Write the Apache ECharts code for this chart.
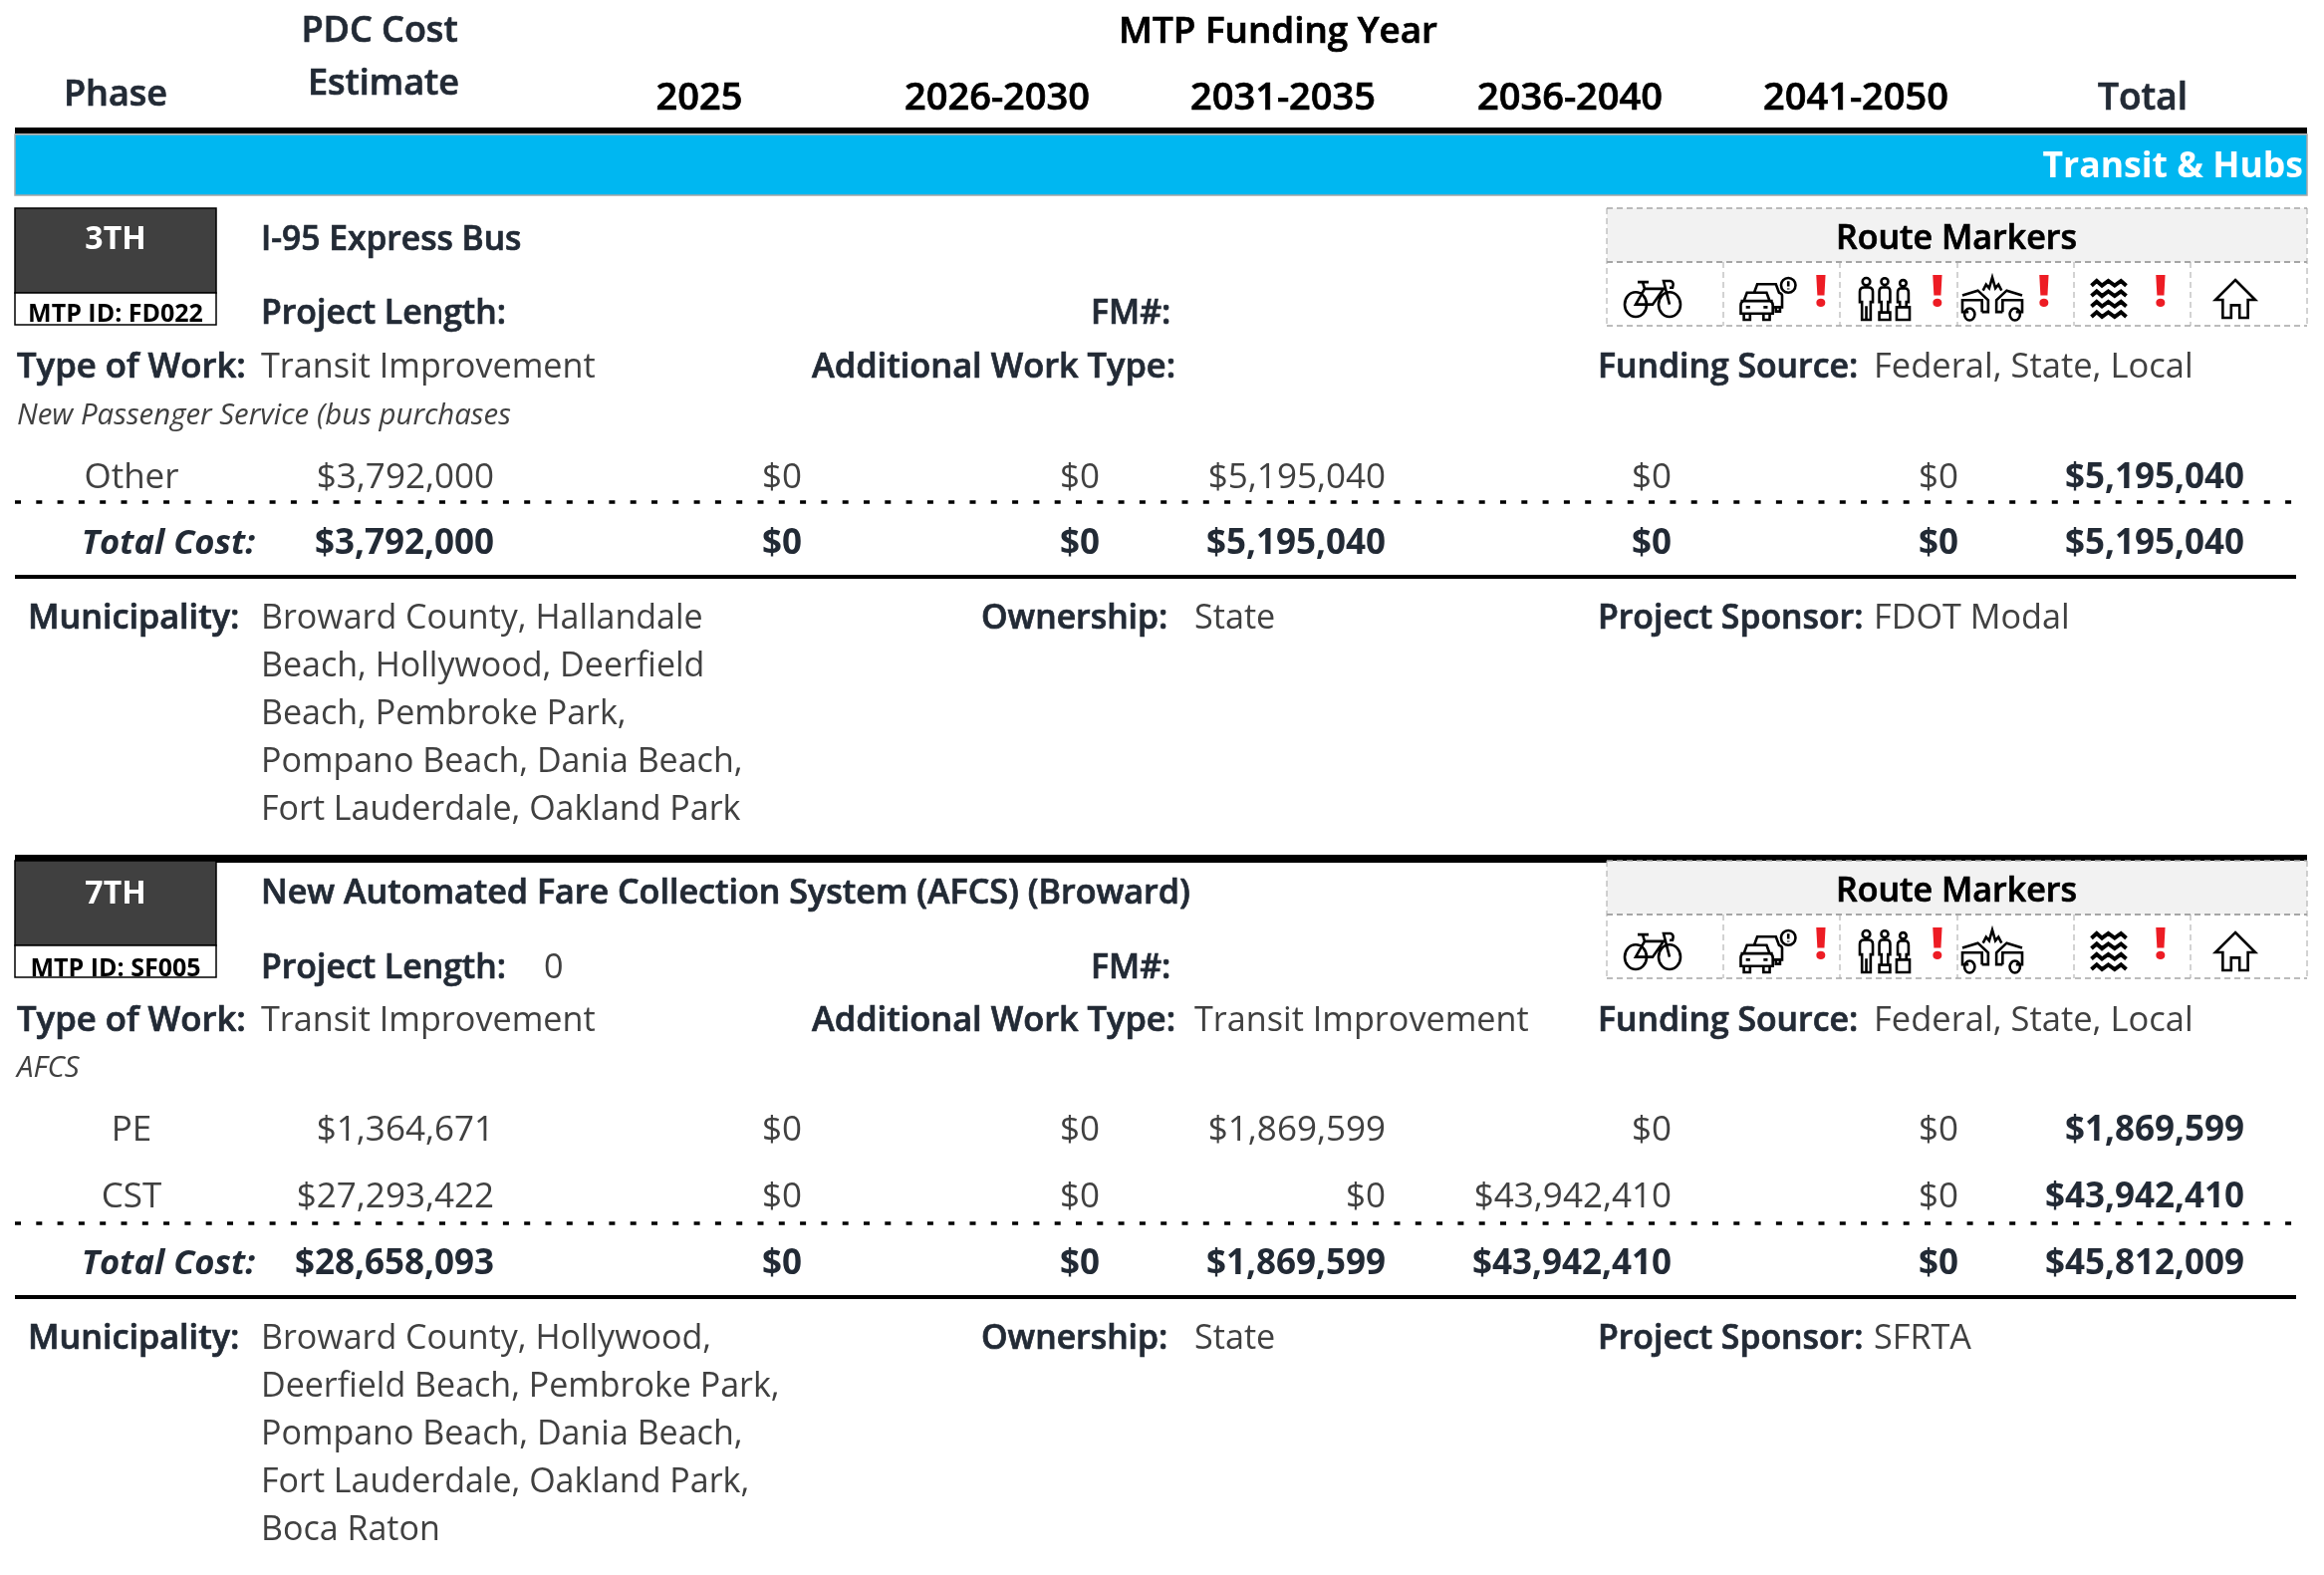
<!DOCTYPE html>
<html>
<head>
<meta charset="utf-8">
<title>Transit &amp; Hubs</title>
<script src="https://cdn.jsdelivr.net/npm/echarts@6/dist/echarts.min.js"></script>
<style>
html, body { margin: 0; padding: 0; background: #fff; }
#main { width: 2333px; height: 1581px; }
</style>
</head>
<body>
<div id="main"></div>
<script>
// table text and values
var yearHeaders = ['2025', '2026-2030', '2031-2035', '2036-2040', '2041-2050', 'Total'];

var p1Tier = '3TH';
var p1Id = 'MTP ID: FD022';
var p1Name = 'I-95 Express Bus';
var p1Length = '';
var p1AddWork = '';
var p1Note = 'New Passenger Service (bus purchases';
var p1Phases = ['Other'];
var p1Estimate = [3792000];
var p1Costs = [[0, 0, 5195040, 0, 0, 5195040]];
var p1EstimateTotal = 3792000;
var p1Totals = [0, 0, 5195040, 0, 0, 5195040];
var p1Municipality = ['Broward County, Hallandale', 'Beach, Hollywood, Deerfield', 'Beach, Pembroke Park,', 'Pompano Beach, Dania Beach,', 'Fort Lauderdale, Oakland Park'];
var p1Sponsor = 'FDOT Modal';
var p1Alerts = [0, 1, 1, 1, 1, 0];

var p2Tier = '7TH';
var p2Id = 'MTP ID: SF005';
var p2Name = 'New Automated Fare Collection System (AFCS) (Broward)';
var p2Length = '0';
var p2AddWork = 'Transit Improvement';
var p2Note = 'AFCS';
var p2Phases = ['PE', 'CST'];
var p2Estimate = [1364671, 27293422];
var p2Costs = [[0, 0, 1869599, 0, 0, 1869599], [0, 0, 0, 43942410, 0, 43942410]];
var p2EstimateTotal = 28658093;
var p2Totals = [0, 0, 1869599, 43942410, 0, 45812009];
var p2Municipality = ['Broward County, Hollywood,', 'Deerfield Beach, Pembroke Park,', 'Pompano Beach, Dania Beach,', 'Fort Lauderdale, Oakland Park,', 'Boca Raton'];
var p2Sponsor = 'SFRTA';
var p2Alerts = [0, 1, 1, 0, 1, 0];

// layout, in page pixels
var FONT = '"Open Sans"';
var INK = '#222a35';
var BODY = '#404040';
var TEXT_DY = 3;
var yearCenters = [702, 1001, 1288, 1576, 1863, 2151];
var colRights = [805, 1104, 1391, 1678, 1966, 2253];
var markerEdges = [1613, 1730, 1847, 1965, 2082, 2199, 2316];
var iconCenters = [1659, 1775, 1892, 2000, 2117, 2244];
var iconSizes = [[56, 36], [55, 42], [50, 42], [60, 43], [35, 36], [40, 38]];
var alertX = [0, 1828, 1945, 2052, 2169, 0];

// icons drawn on their own little box, stretched to iconSizes
var iconPaths = [
    'M1 24a11 11 0 1 0 22 0a11 11 0 1 0 -22 0Z M35 24a11 11 0 1 0 22 0a11 11 0 1 0 -22 0Z M12 24L21 10H40L29 24H12Z M21 10L19 4M14 4H25 M46 24L40 3H47Q51 4 49 9H46',
    'M5 23L8 15H27L30 23Q33 24 33 27V35H2V27Q2 24 5 23Z M5 35V41H11V35M24 35V41H30V35 M2 23H33 M7 29H11M24 29H28 M15 15L18 7H36L39 15Q42 16 42 18V29H33M36 29V33H40V29 M41 8a7 7 0 1 0 14 0a7 7 0 1 0 -14 0Z M48 4V9M48 11V12',
    'M4.5 4.5a3.5 3.5 0 1 0 7 0a3.5 3.5 0 1 0 -7 0Z M2 24V14Q2 10 6 10H10Q14 10 14 14V24H12V41H4V24Z M8 28V41 M21.8 4.5a3.2 3.2 0 1 0 6.4 0a3.2 3.2 0 1 0 -6.4 0Z M20 24V14Q20 10 23 10H27Q30 10 30 14V24H28V34H22V24Z M20 34H30V41H20Z M39 6a3 3 0 1 0 6 0a3 3 0 1 0 -6 0Z M37 24V15Q37 11 40 11H44Q47 11 47 15V24H45V29H39V24Z M36 29H48V41H36Z',
    'M1 16L16 12L26 20V30H20M7 30H1V20H20V30 M3 32a5 5 0 1 0 10 0a5 5 0 1 0 -10 0Z M59 16L44 12L34 20V30H40M53 30H59V20H40V30 M47 32a5 5 0 1 0 10 0a5 5 0 1 0 -10 0Z M21 12L24 7L27 10L30 1L33 10L36 7L39 12',
    'M1 6L6 2L11 6L17 2L23 6L29 2L34 6 M1 15L6 11L11 15L17 11L23 15L29 11L34 15 M1 24L6 20L11 24L17 20L23 24L29 20L34 24 M1 33L6 29L11 33L17 29L23 33L29 29L34 33',
    'M20 1L39 20H32V37H24V25H16V37H8V20H1Z'
];

function money(v) {
    return '$' + String(v).replace(/\B(?=(\d{3})+$)/g, ',');
}

var textCells = [];
var rectCells = [];
var lineCells = [];
var iconCells = [];

function addText(x, y, text, size, weight, color, align, italic) {
    textCells.push({
        value: [x, y + TEXT_DY], text: text, size: size, weight: weight, color: color,
        align: align || 'left', italic: italic
    });
}
function addRect(x1, y1, x2, y2, fill, stroke) {
    rectCells.push({ value: [x1, y1, x2, y2], fill: fill, stroke: stroke });
}
function addLine(x1, y1, x2, y2, color, width, dash) {
    lineCells.push({ value: [x1, y1, x2, y2], color: color, width: width, dash: dash });
}

// header
addText(381, 29, 'PDC Cost', 36, 600, INK, 'center');
addText(385, 82, 'Estimate', 36, 600, INK, 'center');
addText(116, 93, 'Phase', 36, 600, INK, 'center');
addText(1283, 30, 'MTP Funding Year', 36.8, 600, '#000', 'center');
yearHeaders.forEach(function (h, i) {
    addText(yearCenters[i], 96, h, i === 5 ? 37 : 38, 600, i === 5 ? INK : '#000', 'center');
});
addRect(15, 128, 2316, 134, '#000');
addRect(15, 135, 2316, 196, '#00b7f1', '#a6a6a6');
addText(2312, 165, 'Transit & Hubs', 35.6, 700, '#fff', 'right');

function addProject(dy, tw, p, rowYs, dashY, totalY, solidY, muniY, muniStep) {
    addRect(15, 209 + dy, 217, 294 + dy, '#404040', '#000');
    addRect(15, 294 + dy, 217, 326 + dy, '#fff', '#000');
    addText(116, 238 + dy + tw, p.tier, 32, 700, '#fff', 'center');
    addText(116, 313 + dy + tw, p.id, 25, 700, '#000', 'center');
    addText(262, 238 + dy + tw / 2, p.name, p.nameSize, 600, INK);
    addText(262, 312 + dy + tw, 'Project Length:', 33.8, 600, INK);
    if (p.length) addText(546, 312 + dy + tw, p.length, 34.2, 400, BODY);
    addText(1095, 312 + dy + tw, 'FM#:', 33.8, 600, INK);
    addText(17, 366 + dy + tw / 2, 'Type of Work:', 34.7, 600, INK);
    addText(262, 366 + dy + tw / 2, 'Transit Improvement', 34.2, 400, BODY);
    addText(815, 366 + dy + tw / 2, 'Additional Work Type:', 34.4, 600, INK);
    if (p.addWork) addText(1199, 366 + dy + tw / 2, p.addWork, 34.2, 400, BODY);
    addText(1604, 366 + dy + tw / 2, 'Funding Source:', 33.8, 600, INK);
    addText(1881, 366 + dy + tw / 2, 'Federal, State, Local', 34.5, 400, BODY);
    addText(17, 415 + dy, p.note, 29.4, 400, BODY, 'left', true);

    // route markers box
    addRect(1613, 209 + dy, 2316, 263 + dy, '#f2f2f2');
    addText(1964, 237 + dy, 'Route Markers', 34, 600, '#000', 'center');
    addLine(1613, 209 + dy, 2316, 209 + dy, '#a6a6a6', 1.5, [6, 4]);
    addLine(1613, 263 + dy, 2316, 263 + dy, '#a6a6a6', 2, [6, 4]);
    addLine(1613, 327 + dy, 2316, 327 + dy, '#a6a6a6', 1.5, [6, 4]);
    markerEdges.forEach(function (x, i) {
        // the outer edges run the full height, the dividers only under the title
        var top = (i === 0 || i === markerEdges.length - 1) ? 209 : 263;
        addLine(x, top + dy, x, 327 + dy, '#a6a6a6', 1, [6, 4]);
    });
    iconPaths.forEach(function (d, i) {
        iconCells.push({ value: [iconCenters[i], 300 + dy], icon: i });
        if (p.alerts[i]) addText(alertX[i], 292 + dy, '!', 44, 800, '#ed1c24', 'center');
    });

    // cost rows
    p.phases.forEach(function (ph, r) {
        addText(132, rowYs[r], ph, 35, 400, BODY, 'center');
        addText(496, rowYs[r], money(p.estimate[r]), 35, 400, BODY, 'right');
        p.costs[r].forEach(function (v, c) {
            addText(colRights[c], rowYs[r], money(v), 35, c === 5 ? 700 : 400, c === 5 ? INK : BODY, 'right');
        });
    });
    addLine(15, dashY, 2305, dashY, '#000', 3.3, [6, 15.3]);
    addText(256, totalY, 'Total Cost:', 34.6, 700, INK, 'right', true);
    addText(496, totalY, money(p.estimateTotal), 35, 700, INK, 'right');
    p.totals.forEach(function (v, c) {
        addText(colRights[c], totalY, money(v), 35, 700, INK, 'right');
    });
    addLine(15, solidY, 2305, solidY, '#000', 4);

    // footer
    addText(28, muniY, 'Municipality:', 34.2, 600, INK);
    p.municipality.forEach(function (line, i) {
        addText(262, muniY + i * muniStep, line, 34, 400, BODY);
    });
    addText(985, muniY, 'Ownership:', 33.8, 600, INK);
    addText(1199, muniY, 'State', 34.2, 400, BODY);
    addText(1604, muniY, 'Project Sponsor:', 33.8, 600, INK);
    addText(1881, muniY, p.sponsor, 34.2, 400, BODY);
}

addProject(0, 0, {
    tier: p1Tier, id: p1Id, name: p1Name, nameSize: 33.6, length: p1Length, addWork: p1AddWork, note: p1Note,
    phases: p1Phases, estimate: p1Estimate, costs: p1Costs, estimateTotal: p1EstimateTotal,
    totals: p1Totals, municipality: p1Municipality, sponsor: p1Sponsor, alerts: p1Alerts
}, [477], 504, 543, 579, 618, 48);

addRect(15, 858, 2316, 866, '#000');

addProject(655, 2, {
    tier: p2Tier, id: p2Id, name: p2Name, nameSize: 34.1, length: p2Length, addWork: p2AddWork, note: p2Note,
    phases: p2Phases, estimate: p2Estimate, costs: p2Costs, estimateTotal: p2EstimateTotal,
    totals: p2Totals, municipality: p2Municipality, sponsor: p2Sponsor, alerts: p2Alerts
}, [1132, 1199], 1228, 1266, 1302, 1341, 48);

var option = {
    animation: false,
    backgroundColor: '#fff',
    grid: { left: 0, right: 0, top: 0, bottom: 0 },
    xAxis: { type: 'value', min: 0, max: 2333, show: false },
    yAxis: { type: 'value', min: 0, max: 1581, inverse: true, show: false },
    series: [
        {
            type: 'custom', silent: true, clip: false, data: rectCells, z: 1,
            renderItem: function (params, api) {
                var c = rectCells[params.dataIndex];
                var a = api.coord([c.value[0], c.value[1]]);
                var b = api.coord([c.value[2], c.value[3]]);
                return {
                    type: 'rect',
                    shape: { x: a[0], y: a[1], width: b[0] - a[0], height: b[1] - a[1] },
                    style: { fill: c.fill, stroke: c.stroke || null, lineWidth: 1.5 }
                };
            }
        },
        {
            type: 'custom', silent: true, clip: false, data: lineCells, z: 2,
            renderItem: function (params, api) {
                var c = lineCells[params.dataIndex];
                var a = api.coord([c.value[0], c.value[1]]);
                var b = api.coord([c.value[2], c.value[3]]);
                return {
                    type: 'line',
                    shape: { x1: a[0], y1: a[1], x2: b[0], y2: b[1] },
                    style: { stroke: c.color, lineWidth: c.width, lineDash: c.dash || null, fill: null }
                };
            }
        },
        {
            type: 'custom', silent: true, clip: false, data: iconCells, z: 3,
            renderItem: function (params, api) {
                var c = iconCells[params.dataIndex];
                var a = api.coord(c.value);
                var s = iconSizes[c.icon];
                return {
                    type: 'path',
                    shape: {
                        pathData: iconPaths[c.icon],
                        x: a[0] - s[0] / 2, y: a[1] - s[1] / 2, width: s[0], height: s[1],
                        layout: 'cover'
                    },
                    style: { fill: null, stroke: '#000', lineWidth: c.icon === 4 ? 4 : 2.6 }
                };
            }
        },
        {
            type: 'custom', silent: true, clip: false, data: textCells, z: 4,
            renderItem: function (params, api) {
                var c = textCells[params.dataIndex];
                var a = api.coord(c.value);
                return {
                    type: 'text',
                    style: {
                        x: a[0], y: a[1], text: c.text, fill: c.color,
                        font: (c.italic ? 'italic ' : '') + c.weight + ' ' + c.size + 'px ' + FONT,
                        textAlign: c.align, textVerticalAlign: 'middle',
                        // the semibold labels sit a little heavier in the original
                        stroke: c.weight === 600 ? c.color : null,
                        lineWidth: c.weight === 600 ? 0.7 : 0
                    }
                };
            }
        }
    ]
};

var chart = echarts.init(document.getElementById('main'), null, { renderer: 'canvas' });
chart.setOption(option);
</script>
</body>
</html>
